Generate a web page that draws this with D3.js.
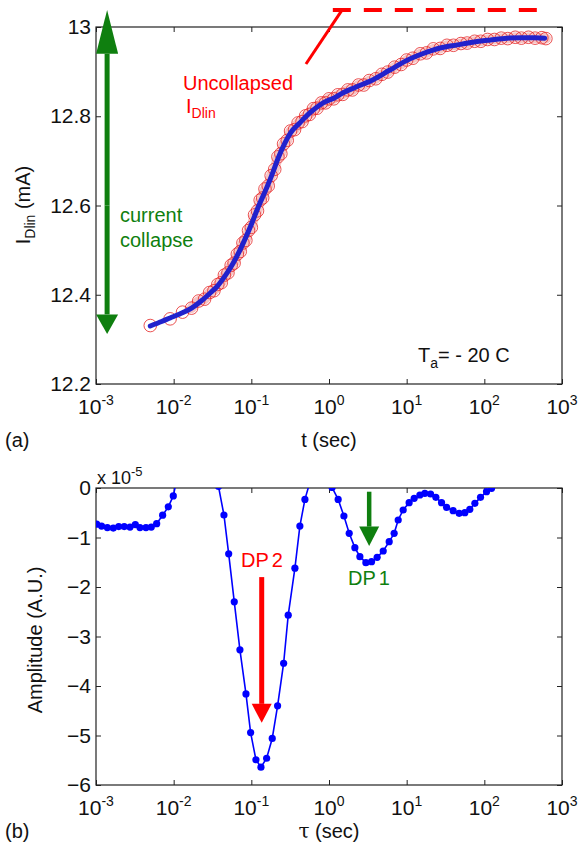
<!DOCTYPE html>
<html>
<head>
<meta charset="utf-8">
<script src="https://cdn.jsdelivr.net/npm/d3@7"></script>
<style>
body { margin: 0; background: #fff; }
text { font-family: "Liberation Sans", Arial, sans-serif; fill: #111; }
</style>
</head>
<body>
<div id="chart"></div>
<script>
// (a) drain current transient, fit line
var fitT = [0.005, 0.007, 0.009, 0.012, 0.017, 0.023, 0.03, 0.036, 0.045, 0.058, 0.075, 0.096, 0.125, 0.158, 0.19, 0.22, 0.27, 0.32, 0.42, 0.57, 0.84, 1.2, 1.5, 2.2, 3.7, 6, 10, 16, 27, 45, 71, 120, 195, 300, 450, 600];
var fitI = [12.330, 12.340, 12.348, 12.357, 12.370, 12.387, 12.405, 12.418, 12.440, 12.470, 12.508, 12.550, 12.600, 12.640, 12.675, 12.705, 12.740, 12.763, 12.785, 12.808, 12.830, 12.842, 12.852, 12.865, 12.882, 12.903, 12.925, 12.940, 12.953, 12.960, 12.966, 12.971, 12.975, 12.976, 12.976, 12.975];

// (a) measured points (red circles)
var measT = [0.005, 0.009, 0.013, 0.017, 0.021, 0.025, 0.029, 0.033, 0.037, 0.041, 0.045, 0.05, 0.055, 0.06, 0.066, 0.072, 0.078, 0.085, 0.092, 0.1, 0.11, 0.12, 0.13, 0.14, 0.15, 0.165, 0.18, 0.2, 0.22, 0.24, 0.26, 0.29, 0.32, 0.36, 0.4, 0.45, 0.5, 0.56, 0.63, 0.7, 0.8, 0.9, 1.0, 1.15, 1.3, 1.5, 1.75, 2.0, 2.4, 2.8, 3.3, 4, 4.8, 5.7, 7, 8.5, 10, 12, 15, 18, 22, 27, 33, 40, 50, 60, 75, 90, 110, 135, 165, 200, 250, 300, 370, 450, 550, 620];
var measI = [12.331, 12.346, 12.361, 12.370, 12.386, 12.390, 12.405, 12.409, 12.423, 12.427, 12.444, 12.449, 12.466, 12.471, 12.491, 12.497, 12.516, 12.522, 12.544, 12.551, 12.579, 12.588, 12.612, 12.617, 12.637, 12.644, 12.667, 12.681, 12.709, 12.716, 12.738, 12.746, 12.767, 12.770, 12.785, 12.788, 12.801, 12.804, 12.817, 12.818, 12.830, 12.830, 12.839, 12.839, 12.848, 12.849, 12.859, 12.859, 12.870, 12.870, 12.880, 12.884, 12.894, 12.899, 12.910, 12.916, 12.926, 12.930, 12.940, 12.942, 12.951, 12.952, 12.959, 12.959, 12.963, 12.964, 12.968, 12.968, 12.972, 12.972, 12.975, 12.974, 12.977, 12.975, 12.977, 12.975, 12.976, 12.974];

// (b) amplitude spectrum (x 1e-5); points above 0 fall outside the axes
var tauVals = [0.00102, 0.00118, 0.00140, 0.00167, 0.00196, 0.00231, 0.00274, 0.00321, 0.00368, 0.00440, 0.00515, 0.00604, 0.00721, 0.00853, 0.00989,
  0.0116, 0.0136, 0.0162, 0.0191, 0.0226, 0.0269, 0.0320, 0.0378,
  0.0444, 0.0511, 0.0603, 0.0713, 0.0853, 0.0979, 0.1146, 0.1330, 0.1574, 0.1858, 0.2178, 0.2606, 0.2985, 0.364, 0.4217, 0.4898,
  0.575, 0.676, 0.794, 0.933, 1.096,
  1.312, 1.556, 1.820, 2.153, 2.500, 2.985, 3.532, 4.169, 4.989, 5.957, 6.902, 7.780, 9.016, 10.76, 12.50, 14.79, 17.14, 20.32, 23.77, 28.12, 32.66, 39.63, 47.42, 56.10, 65.01, 75.51, 89.33, 106.7, 123.9];
var ampVals = [-0.73, -0.77, -0.80, -0.81, -0.78, -0.78, -0.79, -0.74, -0.80, -0.80, -0.79, -0.72, -0.55, -0.38, -0.16,
  0.36, 1.0, 1.7, 2.2, 2.4, 2.0, 1.0, 0.03,
  -0.545, -1.33, -2.30, -3.27, -4.16, -4.94, -5.49, -5.64, -5.46, -5.06, -4.40, -3.54, -2.57, -1.62, -0.77, -0.23,
  0.15, 0.9, 1.4, 0.9, 0.01,
  -0.23, -0.566, -0.916, -1.205, -1.387, -1.508, -1.488, -1.40, -1.273, -1.084, -0.916, -0.646, -0.444, -0.296, -0.209, -0.141, -0.108, -0.121, -0.189, -0.296, -0.39, -0.458, -0.512, -0.498, -0.431, -0.31, -0.189, -0.074, -0.007];

var decades = [1e-3, 1e-2, 1e-1, 1e0, 1e1, 1e2, 1e3];
var exps = ["-3", "-2", "-1", "0", "1", "2", "3"];
var yTicksA = [12.2, 12.4, 12.6, 12.8, 13];
var yTicksB = [0, -1, -2, -3, -4, -5, -6];

var svgWidth = 579;
var svgHeight = 847;
var plotLeft = 96, plotRight = 562;
var a = {top: 27, bottom: 384};
var b = {top: 488, bottom: 785};

var svg = d3.select("#chart")
    .append("svg")
    .attr("width", svgWidth)
    .attr("height", svgHeight);

var x = d3.scaleLog().domain([1e-3, 1e3]).range([plotLeft, plotRight]);
var yA = d3.scaleLinear().domain([12.2, 13]).range([a.bottom, a.top]);
var yB = d3.scaleLinear().domain([-6, 0]).range([b.bottom, b.top]);

var green = "#0f7f0f";
var red = "#ff0000";

function drawAxes(y, box, yTicks, yFmt) {
    var g = svg.append("g");
    // ticks point inwards on all four sides
    g.append("g").attr("transform", `translate(0,${box.bottom})`)
        .call(d3.axisBottom(x).tickValues(decades).tickSize(-5).tickFormat(""))
        .call(s => s.select(".domain").remove());
    g.append("g").attr("transform", `translate(0,${box.top})`)
        .call(d3.axisTop(x).tickValues(decades).tickSize(-5).tickFormat(""))
        .call(s => s.select(".domain").remove());
    g.append("g").attr("transform", `translate(${plotLeft},0)`)
        .call(d3.axisLeft(y).tickValues(yTicks).tickSize(-5).tickPadding(5).tickFormat(yFmt))
        .call(s => s.select(".domain").remove())
        .selectAll("text").style("font-size", "21px").attr("fill", "#111");
    g.append("g").attr("transform", `translate(${plotRight},0)`)
        .call(d3.axisRight(y).tickValues(yTicks).tickSize(-5).tickFormat(""))
        .call(s => s.select(".domain").remove());
    g.selectAll(".tick line").attr("stroke", "#222");
    g.append("rect")
        .attr("x", plotLeft).attr("y", box.top)
        .attr("width", plotRight - plotLeft).attr("height", box.bottom - box.top)
        .attr("fill", "none").attr("stroke", "#222").attr("stroke-width", 1.2);

    // 10^n labels
    var lab = g.append("g").selectAll("text")
        .data(decades)
        .enter()
        .append("text")
        .attr("x", d => x(d))
        .attr("y", box.bottom + 30)
        .attr("text-anchor", "middle")
        .style("font-size", "21px");
    lab.append("tspan").text("10");
    lab.append("tspan").attr("dy", -9).style("font-size", "14px").text((d, i) => exps[i]);
}

// ---------- (a) ----------
drawAxes(yA, a, yTicksA, d => d === 13 ? "13" : d3.format(".1f")(d));

var meas = measT.map((t, i) => [t, measI[i]]);
var fit = fitT.map((t, i) => [t, fitI[i]]);

// light band under the dense part of the measured circles
svg.append("path")
    .datum(meas.slice(3))
    .attr("d", d3.line().x(d => x(d[0])).y(d => yA(d[1])).curve(d3.curveMonotoneX))
    .attr("fill", "none")
    .attr("stroke", "#f6c4c4")
    .attr("stroke-width", 10)
    .attr("stroke-linecap", "round");

svg.append("g").selectAll("circle")
    .data(meas)
    .enter()
    .append("circle")
    .attr("cx", d => x(d[0]))
    .attr("cy", d => yA(d[1]))
    .attr("r", 6.3)
    .attr("fill", "none")
    .attr("stroke", "#e52525")
    .attr("stroke-width", 0.8);

svg.append("path")
    .datum(fit)
    .attr("d", d3.line().x(d => x(d[0])).y(d => yA(d[1])).curve(d3.curveMonotoneX))
    .attr("fill", "none")
    .attr("stroke", "#2222cc")
    .attr("stroke-width", 5)
    .attr("stroke-linecap", "round");

// vertical arrow helper
function arrow(cx, yFrom, yBase, yTip, half, w, col) {
    svg.append("line")
        .attr("x1", cx).attr("x2", cx)
        .attr("y1", yFrom).attr("y2", yBase)
        .attr("stroke", col).attr("stroke-width", w);
    svg.append("path")
        .attr("d", `M${cx - half},${yBase}L${cx + half},${yBase}L${cx},${yTip}Z`)
        .attr("fill", col);
}
// current collapse double arrow
var ax = x(0.00139);
arrow(ax, yA(12.6), yA(12.94), yA(13.038), 11, 5, green);
arrow(ax, yA(12.6), yA(12.356), yA(12.312), 11, 5, green);

svg.append("text").attr("x", 120).attr("y", 222).style("fill", green)
    .style("font-size", "20px").text("current");
svg.append("text").attr("x", 120).attr("y", 247).style("fill", green)
    .style("font-size", "20px").text("collapse");

// uncollapsed level
svg.append("line")
    .attr("x1", x(1.12)).attr("x2", x(550))
    .attr("y1", yA(13.038)).attr("y2", yA(13.038))
    .attr("stroke", red).attr("stroke-width", 4)
    .attr("stroke-dasharray", "18,13");
svg.append("line")
    .attr("x1", x(0.505)).attr("y1", yA(12.917))
    .attr("x2", x(1.47)).attr("y2", yA(13.038))
    .attr("stroke", red).attr("stroke-width", 3);
svg.append("text").attr("x", 183).attr("y", 90).style("fill", red)
    .style("font-size", "20px").text("Uncollapsed");
var idl = svg.append("text").attr("x", 186).attr("y", 113).style("fill", red).style("font-size", "20px");
idl.append("tspan").text("I");
idl.append("tspan").attr("dy", 5).style("font-size", "14px").text("Dlin");

var ta = svg.append("text").attr("x", 418).attr("y", 362).style("font-size", "20px");
ta.append("tspan").text("T");
ta.append("tspan").attr("dy", 6).style("font-size", "14px").text("a");
ta.append("tspan").attr("dy", -6).text("= - 20 C");

var yl = svg.append("text")
    .attr("transform", "translate(30,205) rotate(-90)")
    .attr("text-anchor", "middle")
    .style("font-size", "20px");
yl.append("tspan").text("I");
yl.append("tspan").attr("dy", 5).style("font-size", "14px").text("Dlin");
yl.append("tspan").attr("dy", -5).text(" (mA)");

svg.append("text").attr("x", 329).attr("y", 447).attr("text-anchor", "middle")
    .style("font-size", "20px").text("t (sec)");
svg.append("text").attr("x", 5).attr("y", 447).style("font-size", "20px").text("(a)");

// ---------- (b) ----------
drawAxes(yB, b, yTicksB, d3.format("d"));

svg.append("clipPath").attr("id", "clipB")
    .append("rect")
    .attr("x", plotLeft).attr("y", b.top)
    .attr("width", plotRight - plotLeft).attr("height", b.bottom - b.top);

var spec = tauVals.map((t, i) => [t, ampVals[i]]);
var gB = svg.append("g").attr("clip-path", "url(#clipB)");
gB.append("path")
    .datum(spec)
    .attr("d", d3.line().x(d => x(d[0])).y(d => yB(d[1])))
    .attr("fill", "none")
    .attr("stroke", "#0000ff")
    .attr("stroke-width", 1.6);
gB.selectAll("circle")
    .data(spec)
    .enter()
    .append("circle")
    .attr("cx", d => x(d[0]))
    .attr("cy", d => yB(d[1]))
    .attr("r", 3.6)
    .attr("fill", "#0000ff");

arrow(x(0.136), yB(-1.8), yB(-4.36), yB(-4.74), 10, 5, red);
arrow(x(3.29), yB(-0.075), yB(-0.78), yB(-1.17), 10, 4.5, green);

var dp2 = svg.append("text").attr("x", 262).attr("y", 567).attr("text-anchor", "middle")
    .style("fill", red).style("font-size", "20px");
dp2.append("tspan").text("DP");
dp2.append("tspan").attr("dx", 3).text("2");
var dp1 = svg.append("text").attr("x", 369).attr("y", 585).attr("text-anchor", "middle")
    .style("fill", green).style("font-size", "20px");
dp1.append("tspan").text("DP");
dp1.append("tspan").attr("dx", 3).text("1");

var mult = svg.append("text").attr("x", 97).attr("y", 484).style("font-size", "18px");
mult.append("tspan").text("x 10");
mult.append("tspan").attr("dy", -8).style("font-size", "13px").text("-5");

svg.append("text")
    .attr("transform", "translate(42,640) rotate(-90)")
    .attr("text-anchor", "middle")
    .style("font-size", "20px")
    .text("Amplitude (A.U.)");

var tl = svg.append("text").attr("x", 329).attr("y", 838).attr("text-anchor", "middle")
    .style("font-size", "20px");
tl.append("tspan").style("font-family", "'DejaVu Serif', 'Liberation Serif', serif").text("τ");
tl.append("tspan").text(" (sec)");
svg.append("text").attr("x", 5).attr("y", 838).style("font-size", "20px").text("(b)");
</script>
</body>
</html>
